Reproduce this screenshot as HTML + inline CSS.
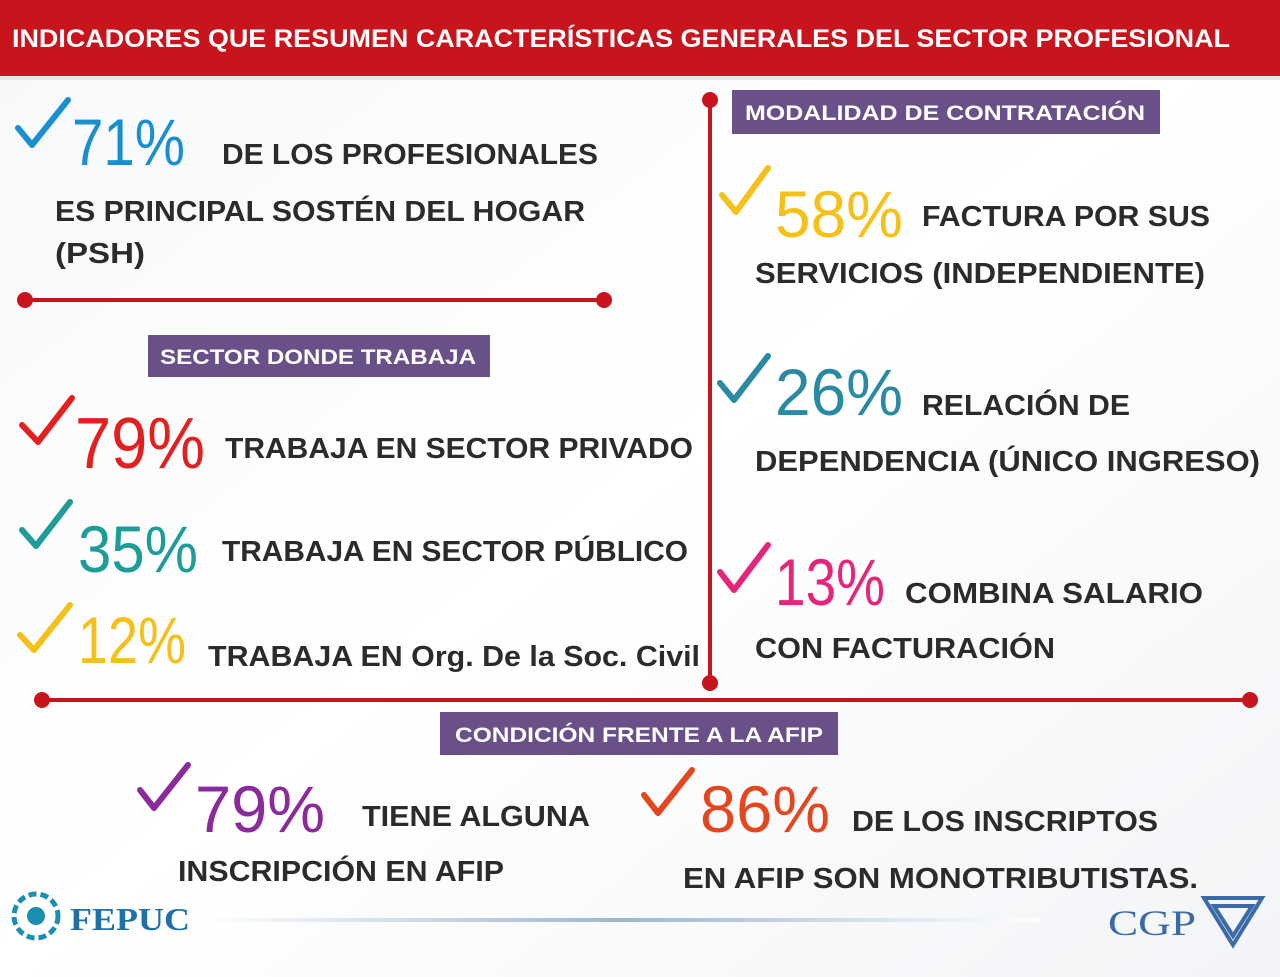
<!DOCTYPE html>
<html><head><meta charset="utf-8"><style>
html,body{margin:0;padding:0;background:#fff;}
svg{display:block}
text{font-family:"Liberation Sans",sans-serif;}
.t{font-weight:bold;fill:#2b2b2b;font-size:29px;}
.n{font-size:66px;}
.lab{font-weight:bold;fill:#fff;font-size:21px;}
</style></head><body>
<svg width="1280" height="977" viewBox="0 0 1280 977" xmlns="http://www.w3.org/2000/svg">
<defs>
<linearGradient id="bg" x1="0" y1="0" x2="1" y2="1">
<stop offset="0" stop-color="#f7f8fa"/><stop offset="0.5" stop-color="#ffffff"/><stop offset="1" stop-color="#f2f4f7"/></linearGradient>
<linearGradient id="gl" x1="0" x2="1"><stop offset="0" stop-color="#fff"/><stop offset="0.5" stop-color="#9fb6cf"/><stop offset="1" stop-color="#fff"/></linearGradient>
</defs>
<rect width="1280" height="977" fill="url(#bg)"/>
<rect width="1280" height="76" fill="#c8141c"/>
<rect y="76" width="1280" height="4" fill="#e8e8e8"/>
<text x="12" y="47" class="lab" style="font-size:25px" textLength="1218" lengthAdjust="spacingAndGlyphs">INDICADORES QUE RESUMEN CARACTERÍSTICAS GENERALES DEL SECTOR PROFESIONAL</text>

<!-- red lines -->
<g stroke="#c8141c" stroke-width="4" fill="#c8141c">
<line x1="25" y1="300" x2="604" y2="300"/>
<line x1="710" y1="100" x2="710" y2="683"/>
<line x1="42" y1="700" x2="1250" y2="700"/>
</g>
<g fill="#c8141c">
<circle cx="25" cy="300" r="8"/><circle cx="604" cy="300" r="8"/>
<circle cx="710" cy="100" r="8"/><circle cx="710" cy="683" r="8"/>
<circle cx="42" cy="700" r="8"/><circle cx="1250" cy="700" r="8"/>
</g>

<!-- labels -->
<rect x="148" y="335" width="342" height="42" fill="#6a5088"/>
<text x="160" y="364" class="lab" textLength="316" lengthAdjust="spacingAndGlyphs">SECTOR DONDE TRABAJA</text>
<rect x="732" y="90" width="428" height="44" fill="#6a5088"/>
<text x="745" y="120" class="lab" textLength="400" lengthAdjust="spacingAndGlyphs">MODALIDAD DE CONTRATACIÓN</text>
<rect x="440" y="712" width="398" height="43" fill="#6a5088"/>
<text x="455" y="742" class="lab" textLength="368" lengthAdjust="spacingAndGlyphs">CONDICIÓN FRENTE A LA AFIP</text>

<!-- checks -->
<g fill="none" stroke-width="6" stroke-linecap="round" stroke-linejoin="round">
<path d="M18 128 L32 145 L68 100" stroke="#1a8fd0"/>
<path d="M22 425 L38 442 L72 398" stroke="#e41f1f"/>
<path d="M22 530 L36 546 L70 502" stroke="#1d9c98"/>
<path d="M20 635 L34 650 L70 605" stroke="#f5c118"/>
<path d="M722 195 L736 212 L768 168" stroke="#f5c118"/>
<path d="M720 383 L734 400 L768 356" stroke="#2a8aa3"/>
<path d="M720 572 L734 590 L768 545" stroke="#e4267a"/>
<path d="M140 790 L154 808 L188 765" stroke="#8b2a9a"/>
<path d="M644 795 L658 813 L692 770" stroke="#e4471f"/>
</g>

<!-- numbers -->
<text x="72" y="165" class="n" fill="#1a8fd0" textLength="113" lengthAdjust="spacingAndGlyphs">71%</text>
<text x="75" y="468" class="n" fill="#e41f1f" style="font-size:72px" textLength="130" lengthAdjust="spacingAndGlyphs">79%</text>
<text x="78" y="572" class="n" fill="#1d9c98" textLength="120" lengthAdjust="spacingAndGlyphs">35%</text>
<text x="78" y="663" class="n" fill="#f5c118" textLength="108" lengthAdjust="spacingAndGlyphs">12%</text>
<text x="775" y="237" class="n" fill="#f5c118" textLength="128" lengthAdjust="spacingAndGlyphs">58%</text>
<text x="775" y="415" class="n" fill="#2a8aa3" textLength="128" lengthAdjust="spacingAndGlyphs">26%</text>
<text x="775" y="605" class="n" fill="#e4267a" textLength="110" lengthAdjust="spacingAndGlyphs">13%</text>
<text x="195" y="832" class="n" fill="#8b2a9a" textLength="130" lengthAdjust="spacingAndGlyphs">79%</text>
<text x="700" y="832" class="n" fill="#e4471f" textLength="130" lengthAdjust="spacingAndGlyphs">86%</text>

<!-- texts -->
<text x="222" y="164" class="t" textLength="376" lengthAdjust="spacingAndGlyphs">DE LOS PROFESIONALES</text>
<text x="55" y="221" class="t" textLength="530" lengthAdjust="spacingAndGlyphs">ES PRINCIPAL SOSTÉN DEL HOGAR</text>
<text x="55" y="263" class="t" textLength="90" lengthAdjust="spacingAndGlyphs">(PSH)</text>
<text x="225" y="458" class="t" textLength="468" lengthAdjust="spacingAndGlyphs">TRABAJA EN SECTOR PRIVADO</text>
<text x="222" y="561" class="t" textLength="466" lengthAdjust="spacingAndGlyphs">TRABAJA EN SECTOR PÚBLICO</text>
<text x="208" y="666" class="t" textLength="492" lengthAdjust="spacingAndGlyphs">TRABAJA EN Org. De la Soc. Civil</text>
<text x="922" y="226" class="t" textLength="288" lengthAdjust="spacingAndGlyphs">FACTURA POR SUS</text>
<text x="755" y="283" class="t" textLength="450" lengthAdjust="spacingAndGlyphs">SERVICIOS (INDEPENDIENTE)</text>
<text x="922" y="415" class="t" textLength="208" lengthAdjust="spacingAndGlyphs">RELACIÓN DE</text>
<text x="755" y="471" class="t" textLength="505" lengthAdjust="spacingAndGlyphs">DEPENDENCIA (ÚNICO INGRESO)</text>
<text x="905" y="603" class="t" textLength="298" lengthAdjust="spacingAndGlyphs">COMBINA SALARIO</text>
<text x="755" y="658" class="t" textLength="300" lengthAdjust="spacingAndGlyphs">CON FACTURACIÓN</text>
<text x="362" y="826" class="t" textLength="228" lengthAdjust="spacingAndGlyphs">TIENE ALGUNA</text>
<text x="178" y="881" class="t" textLength="326" lengthAdjust="spacingAndGlyphs">INSCRIPCIÓN EN AFIP</text>
<text x="852" y="831" class="t" textLength="306" lengthAdjust="spacingAndGlyphs">DE LOS INSCRIPTOS</text>
<text x="683" y="888" class="t" textLength="515" lengthAdjust="spacingAndGlyphs">EN AFIP SON MONOTRIBUTISTAS.</text>

<!-- footer -->
<rect x="200" y="918" width="840" height="4" fill="url(#gl)"/>
<circle cx="36" cy="916" r="22" fill="none" stroke="#1a8fb0" stroke-width="5" stroke-dasharray="8 4"/>
<circle cx="36" cy="916" r="9" fill="#1a8fb0"/>
<text x="70" y="930" style="font-family:'Liberation Serif',serif;font-weight:bold;font-size:32px;fill:#1f6fa8" textLength="120" lengthAdjust="spacingAndGlyphs">FEPUC</text>
<text x="1108" y="935" style="font-family:'Liberation Serif',serif;font-size:36px;fill:#3a6aa8" textLength="88" lengthAdjust="spacingAndGlyphs">CGP</text>
<g fill="none" stroke="#3a6aa8" stroke-width="4">
<path d="M1204 898 L1262 898 L1233 945 Z"/>
<path d="M1214 906 L1252 906 L1233 936 Z"/>
</g>
</svg>
</body></html>
